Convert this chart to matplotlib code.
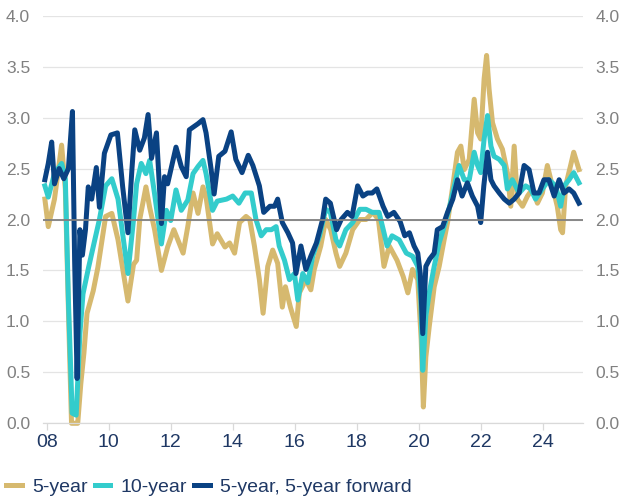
import matplotlib
matplotlib.use("Agg")
import matplotlib.pyplot as plt

plt.rcParams['font.family'] = ['Liberation Sans', 'DejaVu Sans']

# ---------------- data ----------------
years_5y = [2007.94, 2008.05, 2008.25, 2008.48, 2008.6, 2008.72, 2008.8, 2008.9, 2009.0, 2009.1,
            2009.2, 2009.3, 2009.5, 2009.65, 2009.9, 2010.1, 2010.3, 2010.62, 2010.8, 2010.9,
            2011.0, 2011.2, 2011.32, 2011.48, 2011.7, 2011.9, 2012.1, 2012.4, 2012.55, 2012.72,
            2012.88, 2013.04, 2013.14, 2013.35, 2013.5, 2013.75, 2013.9, 2014.06, 2014.22, 2014.43,
            2014.55, 2014.7, 2014.86, 2014.98, 2015.13, 2015.29, 2015.45, 2015.6, 2015.7, 2015.86,
            2016.05, 2016.15, 2016.36, 2016.52, 2016.63, 2016.84, 2017.0, 2017.16, 2017.33, 2017.45,
            2017.65, 2017.87, 2018.1, 2018.3, 2018.52, 2018.7, 2018.88, 2019.05, 2019.3, 2019.5,
            2019.65, 2019.8, 2019.97, 2020.08, 2020.15, 2020.23, 2020.34, 2020.5, 2020.66, 2020.82,
            2020.93, 2021.1, 2021.25, 2021.36, 2021.47, 2021.63, 2021.79, 2021.9, 2022.0, 2022.11,
            2022.19, 2022.27, 2022.38, 2022.54, 2022.7, 2022.86, 2022.97, 2023.08, 2023.18, 2023.35,
            2023.51, 2023.67, 2023.83, 2023.99, 2024.15, 2024.31, 2024.47, 2024.58, 2024.64, 2024.74,
            2024.9, 2025.0, 2025.1, 2025.17]
vals_5y = [2.2, 1.93, 2.2, 2.73, 2.3, 0.88, 0.0, 0.0, 0.0, 0.39,
           0.69, 1.08, 1.3, 1.53, 2.03, 2.06, 1.8, 1.2, 1.56, 1.6,
           2.0, 2.32, 2.12, 1.9, 1.5, 1.73, 1.9, 1.67, 1.93, 2.26,
           2.06, 2.32, 2.22, 1.76, 1.86, 1.73, 1.77, 1.67, 1.97, 2.03,
           2.0, 1.74, 1.41, 1.08, 1.54, 1.7, 1.57, 1.14, 1.34, 1.14,
           0.95, 1.28, 1.41, 1.31, 1.51, 1.74, 2.0, 1.9, 1.67, 1.54,
           1.67, 1.9, 2.0, 2.0, 2.07, 2.0, 1.54, 1.74, 1.6, 1.44,
           1.28, 1.51, 1.41, 0.82, 0.16, 0.65, 0.95, 1.34, 1.54, 1.8,
           1.97, 2.33, 2.66, 2.72, 2.49, 2.59, 3.18, 2.85, 2.79, 3.38,
           3.61, 3.28, 2.95, 2.79, 2.69, 2.46, 2.13, 2.72, 2.2, 2.13,
           2.23, 2.3, 2.16, 2.26, 2.53, 2.33, 2.13, 1.9, 1.87, 2.33,
           2.53, 2.66, 2.56, 2.49]

years_10y = [2007.94, 2008.05, 2008.25, 2008.48, 2008.6, 2008.7, 2008.82, 2008.95, 2009.07, 2009.17,
             2009.35, 2009.55, 2009.7, 2009.9, 2010.1, 2010.3, 2010.62, 2010.8, 2010.9, 2011.05,
             2011.2, 2011.32, 2011.48, 2011.7, 2011.86, 2012.0, 2012.17, 2012.34, 2012.55, 2012.72,
             2012.88, 2013.04, 2013.14, 2013.35, 2013.5, 2013.8, 2014.0, 2014.2, 2014.4, 2014.6,
             2014.75, 2014.92, 2015.08, 2015.25, 2015.4, 2015.5, 2015.67, 2015.83, 2015.99, 2016.1,
             2016.26, 2016.42, 2016.58, 2016.8, 2017.0, 2017.15, 2017.33, 2017.45, 2017.65, 2017.87,
             2018.1, 2018.3, 2018.5, 2018.72, 2018.88, 2018.98, 2019.14, 2019.37, 2019.6, 2019.8,
             2019.97, 2020.07, 2020.13, 2020.23, 2020.34, 2020.5, 2020.66, 2020.82, 2021.0, 2021.15,
             2021.3, 2021.47, 2021.63, 2021.79, 2021.9, 2022.0, 2022.11, 2022.22, 2022.33, 2022.43,
             2022.6, 2022.76, 2022.86, 2023.02, 2023.24, 2023.45, 2023.61, 2023.77, 2023.99, 2024.2,
             2024.42, 2024.58, 2024.69, 2024.85, 2025.0, 2025.17]
vals_10y = [2.33, 2.22, 2.45, 2.55, 2.4, 1.2, 0.1, 0.08, 0.88, 1.27,
            1.53, 1.8, 2.0, 2.33, 2.4, 2.2, 1.47, 2.0, 2.35, 2.55,
            2.45, 2.58, 2.25, 1.76, 2.09, 1.99, 2.29, 2.09, 2.19, 2.45,
            2.52, 2.58, 2.45, 2.09, 2.18, 2.2, 2.23, 2.16, 2.26, 2.26,
            2.0, 1.84, 1.9, 1.9, 1.93, 1.74, 1.6, 1.41, 1.47, 1.21,
            1.47, 1.38, 1.64, 1.84, 2.1, 2.07, 1.8, 1.74, 1.9, 1.97,
            2.1, 2.1, 2.07, 2.07, 1.87, 1.74, 1.84, 1.8, 1.67, 1.64,
            1.54, 1.21, 0.52, 1.05, 1.28, 1.54, 1.77, 1.93, 2.13, 2.33,
            2.53, 2.39, 2.39, 2.66, 2.53, 2.46, 2.79, 3.02, 2.72, 2.62,
            2.59, 2.53, 2.3, 2.39, 2.26, 2.33, 2.3, 2.2, 2.3, 2.39,
            2.33, 2.13, 2.33, 2.39, 2.46, 2.36]

years_5y5y = [2007.94, 2008.05, 2008.16, 2008.25, 2008.4, 2008.55, 2008.7, 2008.83, 2008.9, 2008.98,
              2009.07, 2009.15, 2009.25, 2009.34, 2009.45, 2009.6, 2009.7, 2009.86, 2010.07, 2010.28,
              2010.45, 2010.62, 2010.75, 2010.84, 2011.0, 2011.15, 2011.27, 2011.38, 2011.54, 2011.7,
              2011.8, 2011.9, 2012.17, 2012.34, 2012.5, 2012.6, 2012.88, 2013.04, 2013.14, 2013.3,
              2013.4, 2013.55, 2013.75, 2013.95, 2014.1, 2014.3, 2014.5, 2014.65, 2014.86, 2015.0,
              2015.2, 2015.35, 2015.45, 2015.6, 2015.78, 2015.93, 2016.04, 2016.2, 2016.36, 2016.52,
              2016.7, 2016.9, 2017.0, 2017.15, 2017.35, 2017.5, 2017.7, 2017.85, 2018.03, 2018.2,
              2018.35, 2018.5, 2018.65, 2018.85, 2019.0, 2019.2, 2019.4, 2019.55, 2019.7, 2019.85,
              2019.97, 2020.05, 2020.13, 2020.23, 2020.35, 2020.5, 2020.6, 2020.77, 2020.93, 2021.1,
              2021.25, 2021.4, 2021.57, 2021.73, 2021.9, 2022.0, 2022.1, 2022.22, 2022.33, 2022.43,
              2022.6, 2022.76, 2022.92, 2023.08, 2023.24, 2023.4, 2023.56, 2023.72, 2023.88, 2024.04,
              2024.2, 2024.37, 2024.53, 2024.69, 2024.85, 2025.0, 2025.17]
vals_5y5y = [2.39, 2.55, 2.76, 2.35, 2.5, 2.4, 2.5, 3.06, 1.6, 0.44,
             1.9, 1.65, 1.9, 2.32, 2.2, 2.51, 2.12, 2.65, 2.83, 2.85,
             2.32, 1.87, 2.5, 2.88, 2.68, 2.8, 3.03, 2.6, 2.85, 1.96,
             2.42, 2.35, 2.71, 2.52, 2.42, 2.88, 2.94, 2.98, 2.85, 2.5,
             2.25, 2.62, 2.67, 2.86, 2.59, 2.46, 2.63, 2.53, 2.33, 2.07,
             2.13, 2.13, 2.2, 1.97, 1.87, 1.77, 1.47, 1.74, 1.51, 1.64,
             1.77, 2.0, 2.2, 2.16, 1.9, 2.0, 2.07, 2.03, 2.33, 2.23,
             2.26, 2.26, 2.3, 2.13, 2.03, 2.07, 1.98, 1.84, 1.87, 1.74,
             1.67, 1.47, 0.88, 1.54, 1.61, 1.67, 1.9, 1.93, 2.07, 2.2,
             2.39, 2.23, 2.36, 2.23, 2.13, 1.97, 2.33, 2.66, 2.39, 2.33,
             2.26, 2.2, 2.16, 2.2, 2.26, 2.53, 2.49, 2.26, 2.26, 2.39,
             2.39, 2.23, 2.39, 2.26, 2.3, 2.26, 2.16]

series_labels = ['5-year', '10-year', '5-year, 5-year forward']
tick_years = [2008, 2010, 2012, 2014, 2016, 2018, 2020, 2022, 2024]
tick_labels = ['08', '10', '12', '14', '16', '18', '20', '22', '24']
y_ticks = [0.0, 0.5, 1.0, 1.5, 2.0, 2.5, 3.0, 3.5, 4.0]
target_level = 2.0

# ---------------- styling ----------------
C_TAN = '#D6B96F'
C_TEAL = '#33CCCC'
C_NAVY = '#0A4283'
C_TEXT = '#1F3864'
C_YLAB = '#808080'
C_GRID = '#E4E4E4'

W, H = 621, 499
fig = plt.figure(figsize=(W / 100, H / 100), dpi=100)
left, right, top, bottom = 42.7, 583.0, 15.7, 423.3
ax = fig.add_axes([left / W, 1 - bottom / H, (right - left) / W, (bottom - top) / H])

lw = 3.6
ax.plot(years_5y, vals_5y, color=C_TAN, lw=lw, label=series_labels[0], clip_on=False, zorder=2,
        solid_joinstyle='round')
ax.plot(years_10y, vals_10y, color=C_TEAL, lw=lw, label=series_labels[1], clip_on=False, zorder=3,
        solid_joinstyle='round')
ax.plot(years_5y5y, vals_5y5y, color=C_NAVY, lw=lw, label=series_labels[2], clip_on=False, zorder=4,
        solid_joinstyle='round')
ax.axhline(target_level, color='#808080', lw=1.3, zorder=5)

ax.set_xlim(2007.87, 2025.30)
ax.set_ylim(0, 4.0)
ax.set_xticks(tick_years)
ax.set_xticklabels(tick_labels)
ax.set_yticks(y_ticks)
ax.set_yticklabels([f'{v:.1f}' for v in y_ticks])
ax.yaxis.grid(True, color=C_GRID, lw=0.9)
ax.set_axisbelow(True)

for s in ['top', 'right', 'left']:
    ax.spines[s].set_visible(False)
ax.spines['bottom'].set_color('#D9D9D9')
ax.spines['bottom'].set_linewidth(0.9)
ax.tick_params(axis='x', colors='#D9D9D9', length=5, width=0.9, pad=3,
               labelcolor=C_TEXT, labelsize=14)
ax.tick_params(axis='y', length=0, pad=9, labelcolor=C_YLAB, labelsize=12.5)

ax2 = ax.twinx()
ax2.set_ylim(0, 4.0)
ax2.set_yticks(y_ticks)
ax2.set_yticklabels([f'{v:.1f}' for v in y_ticks])
for s in ['top', 'right', 'left', 'bottom']:
    ax2.spines[s].set_visible(False)
ax2.tick_params(axis='y', length=0, pad=9, labelcolor=C_YLAB, labelsize=12.5)

handles, labels = ax.get_legend_handles_labels()
fig.legend(handles, labels, loc='center left', bbox_to_anchor=(6 / W, 1 - 487 / H),
           ncol=3, frameon=False, fontsize=14, labelcolor=C_TEXT, handlelength=0.8,
           handletextpad=0.55, columnspacing=0.35, borderpad=0, borderaxespad=0)

fig.savefig('out.png', dpi=100)
